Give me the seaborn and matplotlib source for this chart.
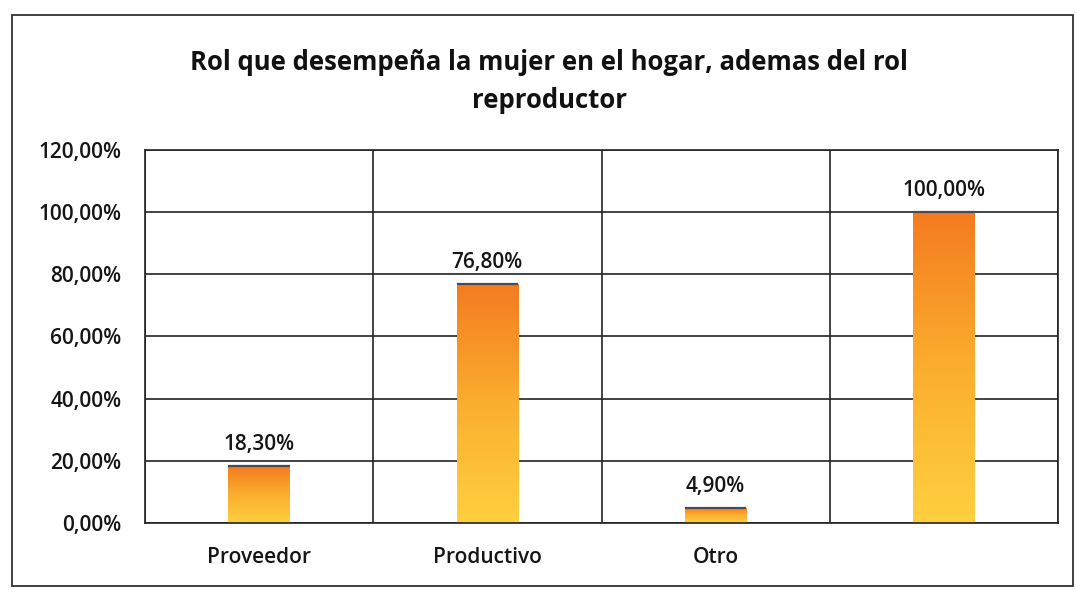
import numpy as np
import pandas as pd
import matplotlib
matplotlib.use("Agg")
import matplotlib.pyplot as plt
import seaborn as sns
from matplotlib.colors import LinearSegmentedColormap
from matplotlib.patches import Rectangle

# data
categories = ["Proveedor", "Productivo", "Otro", ""]
values = [18.3, 76.8, 4.9, 100.0]
value_labels = ["18,30%", "76,80%", "4,90%", "100,00%"]
y_ticks = [0, 20, 40, 60, 80, 100, 120]
y_tick_labels = ["0,00%", "20,00%", "40,00%", "60,00%", "80,00%", "100,00%", "120,00%"]
title = "Rol que desempeña la mujer en el hogar, ademas del rol\nreproductor"

sns.set_theme(style="white")
plt.rcParams["font.family"] = ["Open Sans", "DejaVu Sans"]

FS = 15
TXT = "#151515"

df = pd.DataFrame({"cat": range(len(categories)), "val": values})

fig = plt.figure(figsize=(10.77, 5.92), dpi=100)
ax = fig.add_axes([0.1346, 0.1166, 0.8478, 0.630])

sns.barplot(data=df, x="cat", y="val", color="#F7941D", width=0.27,
            ax=ax, saturation=1, linewidth=0)

# vertical orange -> yellow gradient in every bar
grad_cmap = LinearSegmentedColormap.from_list("og", ["#FFD040", "#FBAE2E", "#F47B20"])
grad = np.linspace(0, 1, 256).reshape(-1, 1)
for bar in ax.patches:
    x0, y0 = bar.get_x(), bar.get_y()
    w, h = bar.get_width(), bar.get_height()
    im = ax.imshow(grad, cmap=grad_cmap, aspect="auto", origin="lower",
                   extent=[x0, x0 + w, y0, y0 + h], zorder=bar.get_zorder() + 0.1)
    im.set_clip_path(bar)
    bar.set_facecolor("none")
    # dark top edge like the original
    ax.plot([x0, x0 + w], [y0 + h, y0 + h], color="#4a4a55", linewidth=1.6,
            zorder=bar.get_zorder() + 0.2, solid_capstyle="butt")

for i, (v, lab) in enumerate(zip(values, value_labels)):
    ax.text(i, v + 3.5, lab, ha="center", va="bottom", fontsize=FS,
            fontweight="semibold", color=TXT)

ax.set_xlim(-0.5, len(categories) - 0.5)
ax.set_ylim(0, 120)
ax.set_yticks(y_ticks)
ax.set_yticklabels(y_tick_labels, fontsize=FS, fontweight="semibold", color=TXT)
ax.set_xticks(range(len(categories)))
ax.set_xticklabels(categories, fontsize=FS, fontweight="semibold", color=TXT)
ax.set_xticks(np.arange(-0.5, len(categories), 1.0), minor=True)
ax.tick_params(axis="x", which="both", length=0, pad=17)
ax.tick_params(axis="y", length=0, pad=17)
ax.set_xlabel("")
ax.set_ylabel("")

ax.grid(axis="y", which="major", color="#222222", linewidth=1.2)
ax.grid(axis="x", which="minor", color="#222222", linewidth=1.2)
ax.set_axisbelow(True)
for s in ax.spines.values():
    s.set_color("#222222")
    s.set_linewidth(1.2)

fig.text(0.51, 0.862, title, ha="center", va="center", fontsize=18.5,
         fontweight="bold", color="#111111", linespacing=1.5)

# outer chart border
fig.patches.append(Rectangle((0.011, 0.01), 0.985, 0.965, transform=fig.transFigure,
                             fill=False, edgecolor="#333333", linewidth=1.3))

fig.savefig("out.png", dpi=100, facecolor="white")
